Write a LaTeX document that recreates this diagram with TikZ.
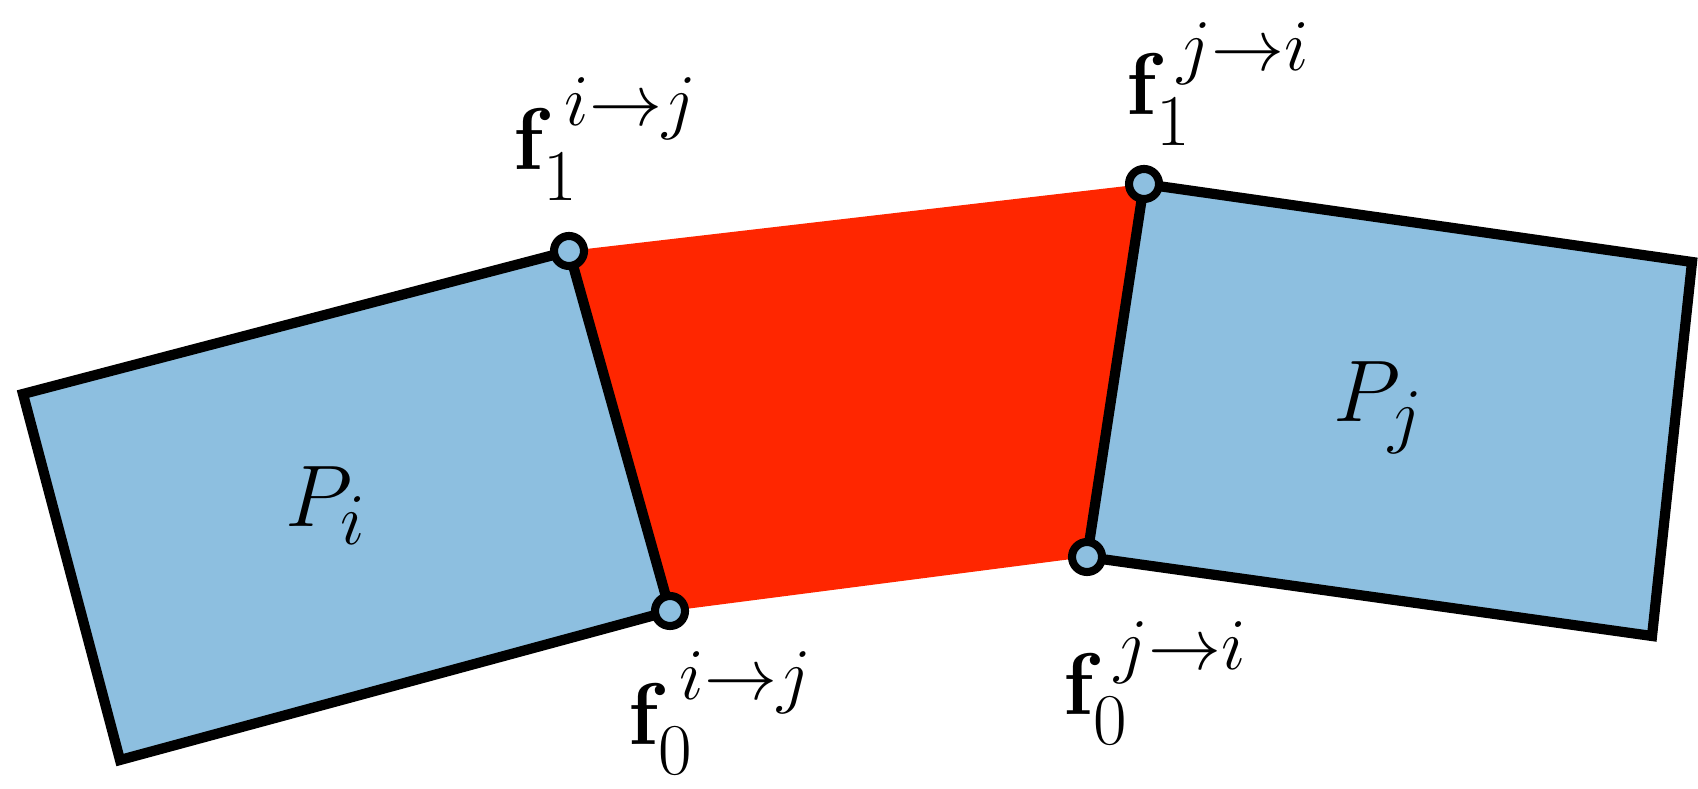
\documentclass[tikz,border=0pt]{standalone}
\usepackage{amsmath}
\DeclareMathSizes{30}{30}{22}{16}
\definecolor{pblue}{RGB}{141,191,224}
\definecolor{pred}{RGB}{255,38,0}
\begin{document}
\begin{tikzpicture}[x=0.01cm,y=-0.01cm,
  quad/.style={draw=black,fill=pblue,line width=2.9pt,line join=miter},
  vert/.style={circle,draw=black,fill=pblue,line width=2.3pt,minimum size=0.3cm,inner sep=0pt},
  lab/.style={anchor=base west,inner sep=0pt,font=\fontsize{30}{36}\selectfont},
  plab/.style={anchor=base west,inner sep=0pt,font=\fontsize{30}{36}\selectfont}]
\useasboundingbox (0,0) rectangle (1698,789);
% corners
\coordinate (A) at (23,394);
\coordinate (B) at (569,251);
\coordinate (C) at (670,611);
\coordinate (D) at (120,760);
\coordinate (E) at (1144,184);
\coordinate (F) at (1692,262);
\coordinate (G) at (1652,636);
\coordinate (H) at (1087,557);
% red band
\fill[pred] (B) -- (E) -- (H) -- (C) -- cycle;
% polygons
\draw[quad] (A) -- (B) -- (C) -- (D) -- cycle;
\draw[quad] (E) -- (F) -- (G) -- (H) -- cycle;
% vertices
\node[vert] (v1) at (B) {};
\node[vert] (v2) at (C) {};
\node[vert] (v3) at (E) {};
\node[vert] (v4) at (H) {};
% labels
\node[plab] (pi) at (285,527) {$P_i$};
\node[plab] (pj) at (1333,422) {$P_j$};
\node[lab] (l1) at (513,170) {$\mathbf{f}_1^{\,i\rightarrow j}$};
\node[lab] (l2) at (1126,115) {$\mathbf{f}_1^{\,j\rightarrow i}$};
\node[lab] (l3) at (628,744) {$\mathbf{f}_0^{\,i\rightarrow j}$};
\node[lab] (l4) at (1063,714) {$\mathbf{f}_0^{\,j\rightarrow i}$};
\end{tikzpicture}
\end{document}
